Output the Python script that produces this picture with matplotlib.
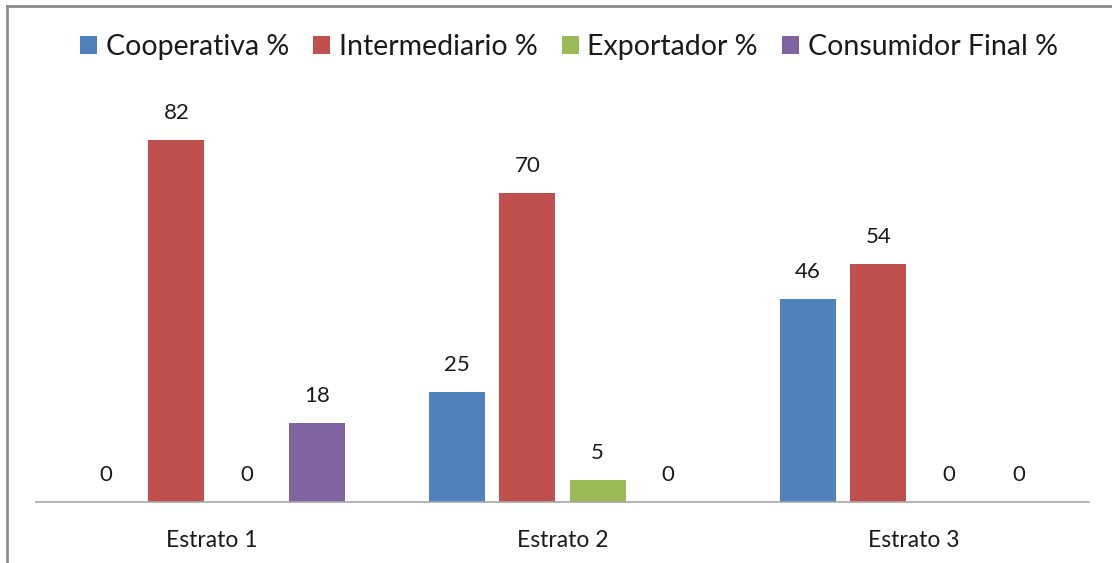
import matplotlib
matplotlib.use("Agg")
import matplotlib.pyplot as plt
from matplotlib.lines import Line2D
import numpy as np

categories = ["Estrato 1", "Estrato 2", "Estrato 3"]
series_names = ["Cooperativa %", "Intermediario %", "Exportador %", "Consumidor Final %"]
cooperativa = [0, 25, 46]
intermediario = [82, 70, 54]
exportador = [0, 5, 0]
consumidor = [18, 0, 0]
colors = ["#4F81BD", "#C0504D", "#9BBB59", "#8064A2"]

plt.rcParams['font.family'] = ['Lato', 'DejaVu Sans']

W, H = 1112, 563
fig = plt.figure(figsize=(W / 100, H / 100), dpi=100)
ymax = 90
ax_bottom_px = 502
ax_top_px = ax_bottom_px - ymax * 4.415
ax = fig.add_axes([36 / W, (H - ax_bottom_px) / H, (1089 - 36) / W, (ax_bottom_px - ax_top_px) / H])

x = np.arange(len(categories))
data = [cooperativa, intermediario, exportador, consumidor]
slot = 0.2
bw = 0.16
for i, (name, vals, c) in enumerate(zip(series_names, data, colors)):
    pos = x + (i - 1.5) * slot
    ax.bar(pos, vals, width=bw, color=c, label=name)
    for p, v in zip(pos, vals):
        ax.text(p, v + 3.8, f"{v}", ha="center", va="bottom", fontsize=16, color="#1a1a1a", clip_on=False)

ax.set_xlim(-0.5, 2.5)
ax.set_ylim(0, ymax)
ax.set_xticks(x)
ax.set_xticklabels(categories, fontsize=16.5, color="#1a1a1a")
ax.tick_params(axis="x", length=0, pad=20)
ax.set_yticks([])
for s in ["top", "left", "right"]:
    ax.spines[s].set_visible(False)
ax.spines["bottom"].set_color("#A6A6A6")
ax.spines["bottom"].set_linewidth(1.2)

leg = fig.legend(loc="center", bbox_to_anchor=(569 / W, 1 - 47 / H), ncol=4, frameon=False,
                 fontsize=20.5, handlelength=0.6, handleheight=0.6, handletextpad=0.3, columnspacing=0.85)
for t in leg.get_texts():
    t.set_color("#1a1a1a")

# outer frame (partially cropped)
fig.add_artist(Line2D([7 / W, 7 / W], [0, 1 - 6 / H], color="#8C8C8C", lw=2, transform=fig.transFigure))
fig.add_artist(Line2D([7 / W, 1], [1 - 6 / H, 1 - 6 / H], color="#8C8C8C", lw=2, transform=fig.transFigure))

fig.savefig("out.png", dpi=100, facecolor="white")
